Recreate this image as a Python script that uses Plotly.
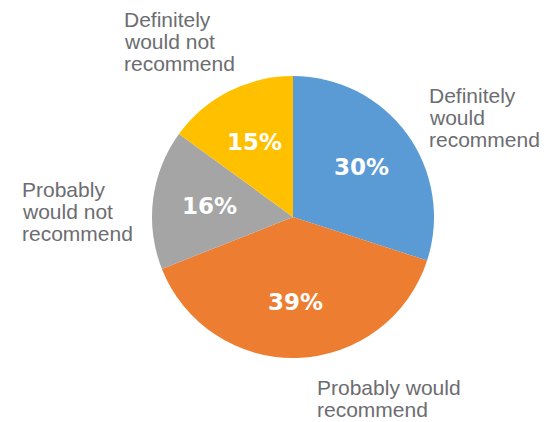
import math
import plotly.graph_objects as go

# Survey answers, in clockwise order starting at 12 o'clock
answers = ["Definitely would recommend", "Probably would recommend",
           "Probably would not recommend", "Definitely would not recommend"]
shares = [30, 39, 16, 15]
slice_colors = ["#5B9BD5", "#ED7D31", "#A5A5A5", "#FFC000"]

# Outside label text, one entry per line
label_lines = [
    ["Definitely", "would", "recommend"],
    ["Probably would", "recommend"],
    ["Probably", "would not", "recommend"],
    ["Definitely", "would not", "recommend"],
]

W, H = 553, 422
CX, CY, R = 293, 217, 141          # pie centre and radius in pixels

fig = go.Figure(go.Pie(
    labels=answers,
    values=shares,
    sort=False,
    direction="clockwise",
    rotation=0,
    marker=dict(colors=slice_colors, line=dict(width=0)),
    textinfo="none",
    hoverinfo="label+percent",
    showlegend=False,
    domain=dict(x=[(CX - R) / W, (CX + R) / W],
                y=[(H - CY - R) / H, (H - CY + R) / H]),
))

annotations = []

# Percentage labels inside each slice, placed along the slice's mid angle
total = sum(shares)
start = 0.0
for v in shares:
    sweep = 360.0 * v / total
    mid = math.radians(start + sweep / 2)
    start += sweep
    r = 0.6 * R
    px = CX + r * math.sin(mid)
    py = CY - r * math.cos(mid)
    annotations.append(dict(
        x=px / W, y=1 - py / H, xref="paper", yref="paper",
        text=f"{round(100 * v / total)}%", showarrow=False,
        xanchor="center", yanchor="middle",
        font=dict(family="DejaVu Sans", size=23, color="white", weight="bold"),
    ))

# Category labels outside the pie: (left x, first baseline) in pixels
label_anchor = [(428, 103), (316, 395), (21, 197), (123, 27)]
LABEL_SIZE = 21
LINE_PITCH = 21.7
for (lx, base), lines in zip(label_anchor, label_lines):
    for i, line in enumerate(lines):
        yb = base + i * LINE_PITCH
        ymid = yb - 0.35 * LABEL_SIZE
        annotations.append(dict(
            x=lx / W, y=1 - ymid / H, xref="paper", yref="paper",
            text=line, showarrow=False, xanchor="left", yanchor="middle",
            borderpad=0,
            font=dict(family="Liberation Sans, Arial, sans-serif",
                      size=LABEL_SIZE, color="#6c6d71"),
        ))

fig.update_layout(
    width=W, height=H,
    margin=dict(l=0, r=0, t=0, b=0),
    paper_bgcolor="white",
    plot_bgcolor="white",
    annotations=annotations,
)

fig.write_html("out.html")
